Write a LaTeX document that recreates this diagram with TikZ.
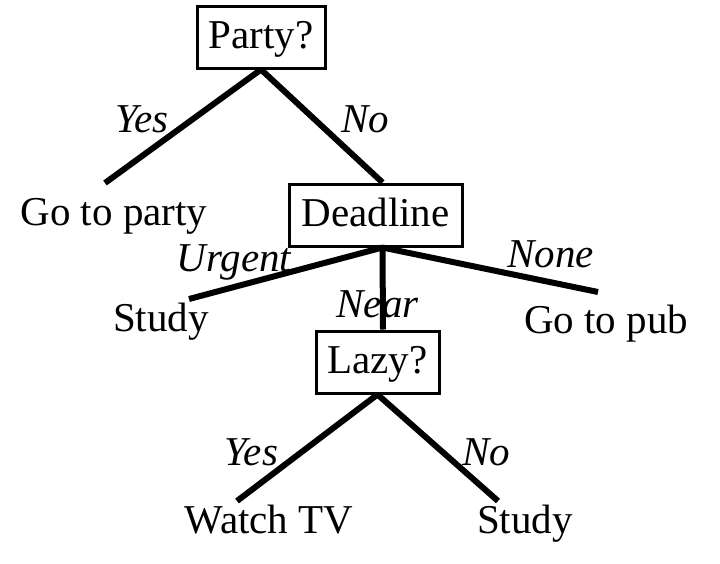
\documentclass[tikz,border=0pt]{standalone}
\usepackage{fontspec}
\setmainfont{Liberation Serif}
\begin{document}
\begin{tikzpicture}
        [x=1pt, y=-1pt,
        every node/.style={font=\fontsize{41}{48}\selectfont},
        test/.style={draw, line width=3pt, text height=29pt, text depth=7pt, inner ysep=13pt, inner xsep=0pt},
        leaf/.style={anchor=base, inner sep=0pt},
        answer/.style={anchor=base, inner sep=0pt, font=\fontsize{41}{48}\selectfont\itshape},
        edge/.style={line width=6pt, black}]

        \useasboundingbox (0,0) rectangle (720,563);

        % decision boxes
        \node[test, minimum width=128pt] (party) at (261,37) {Party?};
        \node[test, minimum width=173pt] (deadline) at (375.5,215) {Deadline};
        \node[test, minimum width=123pt] (lazy) at (377.5,362) {Lazy?};

        % outcomes
        \node[leaf] (goparty) at (114,225) {Go to party};
        \node[leaf] (study1) at (161,331) {Study};
        \node[leaf] (gopub) at (606,333) {Go to pub};
        \node[leaf] (watchtv) at (269,533) {Watch TV};
        \node[leaf] (study2) at (525,533) {Study};

        % free ends of the branches (just above each outcome)
        \coordinate (goparty-end) at (105,183);
        \coordinate (study1-end) at (189,299);
        \coordinate (gopub-end) at (598,292);
        \coordinate (watchtv-end) at (237,501);
        \coordinate (study2-end) at (498,501);

        \draw[edge] (party.south) -- (goparty-end);
        \draw[edge] (party.south) -- ([xshift=7pt]deadline.north);
        \draw[edge] ([xshift=7pt]deadline.south) -- (study1-end);
        \draw[edge] ([xshift=7pt]deadline.south) -- ([xshift=5.5pt]lazy.north);
        \draw[edge] ([xshift=7pt]deadline.south) -- (gopub-end);
        \draw[edge] (lazy.south) -- (watchtv-end);
        \draw[edge] (lazy.south) -- (study2-end);

        % branch labels
        \node[answer] (yes1) at (142,132) {Yes};
        \node[answer] (no1) at (365,132) {No};
        \node[answer] (urgent) at (234,271) {Urgent};
        \node[answer] (near) at (377.5,317) {Near};
        \node[answer] (none) at (550.5,267) {None};
        \node[answer] (yes2) at (251.5,465) {Yes};
        \node[answer] (no2) at (486.5,465) {No};
    \end{tikzpicture}
\end{document}
